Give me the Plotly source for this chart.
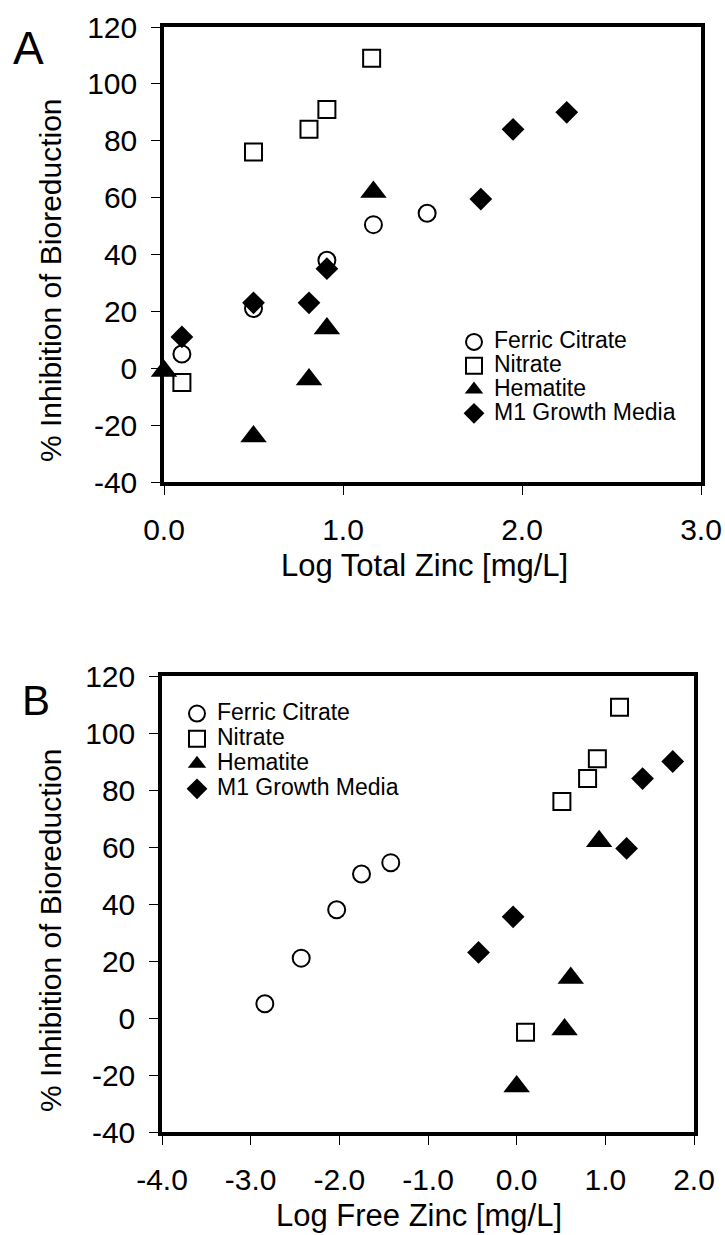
import plotly.graph_objects as go

# ---------------- data ----------------
series_names = ["Ferric Citrate", "Nitrate", "Hematite", "M1 Growth Media"]

# Panel A: Log total zinc [mg/L]
fc_total = [0.10, 0.50, 0.91, 1.17, 1.47]
fc_inhib = [5, 21, 38, 50.5, 54.5]

no3_total = [0.10, 0.50, 0.81, 0.91, 1.16]
no3_inhib = [-5, 76, 84, 91, 109]

hem_total = [0.00, 0.50, 0.81, 0.91, 1.17]
hem_inhib_total = [-1, -24, -4, 14, 62]

m1_total = [0.10, 0.50, 0.81, 0.91, 1.77, 1.95, 2.25]
m1_inhib_total = [11, 23, 23, 35, 59.5, 84, 90]

# Panel B: Log free zinc [mg/L]
fc_free = [-2.84, -2.43, -2.03, -1.75, -1.42]
no3_free = [0.10, 0.51, 0.80, 0.91, 1.16]
hem_free = [0.00, 0.54, 0.61, 0.93]
hem_inhib_free = [-24, -4, 14, 62]
m1_free = [-0.43, -0.04, 1.24, 1.42, 1.76]
m1_inhib_free = [23, 35.5, 59.5, 84, 90]

# ticks
y_ticks = [-40, -20, 0, 20, 40, 60, 80, 100, 120]
y_ticklabels = ["-40", "-20", "0", "20", "40", "60", "80", "100", "120"]
xa_ticks = [0, 1, 2, 3]
xa_ticklabels = ["0.0", "1.0", "2.0", "3.0"]
xb_ticks = [-4, -3, -2, -1, 0, 1, 2]
xb_ticklabels = ["-4.0", "-3.0", "-2.0", "-1.0", "0.0", "1.0", "2.0"]

# ---------------- styles ----------------
FONT = "Liberation Sans, Arial, sans-serif"
styles = {
    "Ferric Citrate": dict(symbol="circle-open", size=17, color="black", line=dict(width=2, color="black")),
    "Nitrate": dict(symbol="square-open", size=17, color="black", line=dict(width=2, color="black")),
    "Hematite": dict(symbol="triangle-up", size=23, color="black", line=dict(width=0)),
    "M1 Growth Media": dict(symbol="diamond", size=17.5, color="black", line=dict(width=0)),
}

def legend_label(name):
    return '<span style="font-size:23px">' + name + "</span>"

fig = go.Figure()

panel_a = [(fc_total, fc_inhib), (no3_total, no3_inhib), (hem_total, hem_inhib_total), (m1_total, m1_inhib_total)]
panel_b = [(fc_free, fc_inhib), (no3_free, no3_inhib), (hem_free, hem_inhib_free), (m1_free, m1_inhib_free)]

for name, (x, y) in zip(series_names, panel_a):
    fig.add_trace(go.Scatter(x=x, y=y, mode="markers", name=legend_label(name),
                             marker=styles[name], xaxis="x", yaxis="y",
                             legend="legend", cliponaxis=False))
for name, (x, y) in zip(series_names, panel_b):
    fig.add_trace(go.Scatter(x=x, y=y, mode="markers", name=legend_label(name),
                             marker=styles[name], xaxis="x2", yaxis="y2",
                             legend="legend2", cliponaxis=False))

W, H = 725, 1235
def px(x):
    return x / W
def py(y):
    return 1 - y / H

axis_common = dict(showgrid=False, zeroline=False, showline=True, linecolor="black",
                   linewidth=3.5, mirror=True, ticks="outside", ticklen=9, tickwidth=1,
                   tickcolor="black", tickfont=dict(family=FONT, size=30, color="black"),
                   automargin=False)

fig.update_layout(
    width=W, height=H,
    margin=dict(l=0, r=0, t=0, b=0),
    paper_bgcolor="white", plot_bgcolor="white",
    font=dict(family=FONT, color="black"),
    xaxis=dict(axis_common, domain=[px(164), px(701)], range=[0, 3], anchor="y",
               tickvals=xa_ticks, ticktext=xa_ticklabels, ticklabelstandoff=9),
    yaxis=dict(axis_common, domain=[py(482), py(27)], range=[-40, 120], anchor="x",
               tickvals=y_ticks, ticktext=y_ticklabels, ticklabelstandoff=8),
    xaxis2=dict(axis_common, domain=[px(162), px(694)], range=[-4, 2], anchor="y2",
                tickvals=xb_ticks, ticktext=xb_ticklabels, ticklabelstandoff=9),
    yaxis2=dict(axis_common, domain=[py(1132), py(676)], range=[-40, 120], anchor="x2",
                tickvals=y_ticks, ticktext=y_ticklabels, ticklabelstandoff=8),
    legend=dict(x=px(454), y=py(325), xanchor="left", yanchor="top",
                bgcolor="rgba(0,0,0,0)", borderwidth=0,
                font=dict(family=FONT, size=16, color="black")),
    legend2=dict(x=px(177), y=py(696), xanchor="left", yanchor="top",
                 bgcolor="rgba(0,0,0,0)", borderwidth=0,
                 font=dict(family=FONT, size=17, color="black")),
    showlegend=True,
)

annotations = [
    dict(text="A", x=px(28), y=py(48), font=dict(family=FONT, size=46)),
    dict(text="B", x=px(36), y=py(700), font=dict(family=FONT, size=42)),
    dict(text="% Inhibition of Bioreduction", x=px(50), y=py(280), textangle=-90,
         font=dict(family=FONT, size=30)),
    dict(text="% Inhibition of Bioreduction", x=px(50), y=py(930), textangle=-90,
         font=dict(family=FONT, size=30)),
    dict(text="Log Total Zinc [mg/L]", x=px(425), y=py(565), font=dict(family=FONT, size=31)),
    dict(text="Log Free Zinc [mg/L]", x=px(419), y=py(1215), font=dict(family=FONT, size=31)),
]
for a in annotations:
    a.update(xref="paper", yref="paper", showarrow=False, xanchor="center", yanchor="middle")
fig.update_layout(annotations=annotations)

fig.write_html("out.html")
